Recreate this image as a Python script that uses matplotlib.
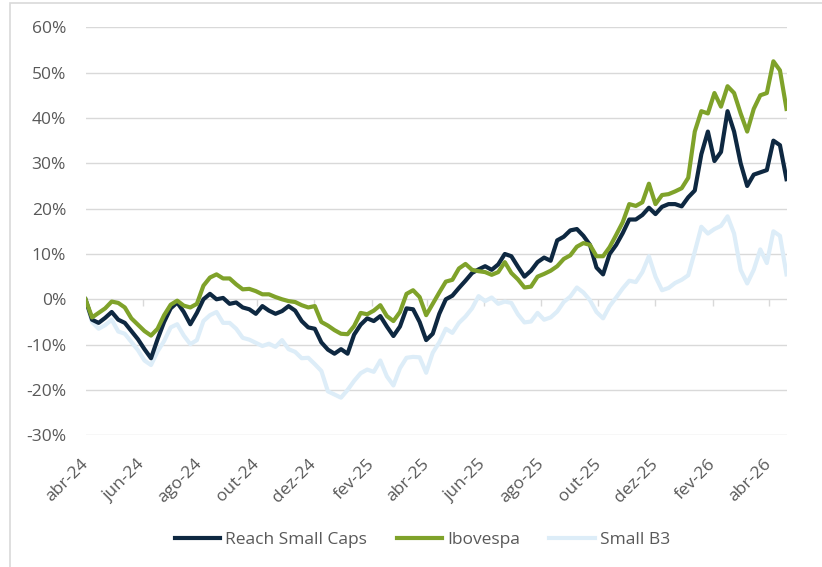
import matplotlib
matplotlib.use("Agg")
import matplotlib.pyplot as plt
import matplotlib.ticker as mtick
from matplotlib.patches import Rectangle
import pandas as pd

# weekly values (% return since start)
reach = [0.0, -4.5, -5.2, -4.1, -2.8, -4.5, -5.2, -7.0, -8.8, -11.0,
         -13.0, -8.8, -5.0, -2.0, -0.7, -2.8, -5.5, -3.0, 0.0, 1.2,
         0.0, 0.3, -1.0, -0.7, -1.8, -2.2, -3.2, -1.5, -2.5, -3.2,
         -2.6, -1.5, -2.5, -4.8, -6.2, -6.5, -9.5, -11.1, -12.0, -11.0,
         -12.0, -7.8, -5.6, -4.2, -4.8, -3.7, -6.0, -8.1, -6.0, -2.0,
         -2.2, -5.0, -9.0, -7.6, -3.2, 0.0, 0.8, 2.5, 4.1, 5.8,
         6.6, 7.3, 6.5, 7.7, 10.0, 9.5, 7.2, 5.0, 6.3, 8.2,
         9.2, 8.5, 13.0, 13.8, 15.2, 15.5, 14.0, 12.0, 7.0, 5.5,
         10.0, 12.0, 14.6, 17.6, 17.6, 18.6, 20.2, 18.8, 20.4, 21.0,
         21.0, 20.5, 22.5, 24.0, 32.0, 37.0, 30.5, 32.5, 41.5, 37.0,
         30.0, 25.0, 27.5, 28.0, 28.5, 35.0, 34.0, 26.5]
ibov = [0.0, -4.0, -3.0, -2.0, -0.5, -0.8, -1.8, -4.2, -5.6, -7.0,
        -8.0, -6.5, -3.5, -1.2, -0.3, -1.4, -1.8, -1.0, 3.0, 4.8,
        5.5, 4.6, 4.6, 3.3, 2.2, 2.3, 1.8, 1.1, 1.1, 0.5,
        0.0, -0.4, -0.6, -1.3, -1.8, -1.5, -5.0, -5.8, -6.8, -7.6,
        -7.7, -5.9, -3.0, -3.3, -2.5, -1.3, -3.7, -4.8, -2.8, 1.2,
        2.0, 0.5, -3.5, -1.0, 1.5, 3.9, 4.3, 6.8, 7.8, 6.5,
        6.2, 6.0, 5.4, 6.0, 8.2, 5.8, 4.4, 2.6, 2.8, 5.0,
        5.6, 6.3, 7.3, 8.9, 9.7, 11.6, 12.4, 12.0, 9.5, 9.5,
        11.5, 14.2, 17.0, 21.0, 20.6, 21.4, 25.5, 21.0, 23.0, 23.2,
        23.8, 24.5, 26.8, 37.0, 41.5, 41.0, 45.5, 42.5, 47.0, 45.5,
        41.0, 37.0, 42.0, 45.0, 45.5, 52.5, 50.5, 42.0]
small_b3 = [0.0, -5.0, -6.5, -5.7, -4.5, -7.1, -7.6, -9.4, -11.2, -13.5,
            -14.5, -11.5, -9.2, -6.2, -5.5, -8.0, -9.9, -9.0, -4.8, -3.5,
            -2.8, -5.2, -5.2, -6.5, -8.5, -8.9, -9.6, -10.3, -9.8, -10.5,
            -9.0, -11.0, -11.6, -13.0, -12.9, -14.3, -15.8, -20.3, -21.0, -21.7,
            -20.0, -18.0, -16.3, -15.5, -16.0, -13.5, -17.0, -19.0, -15.2, -12.9,
            -12.7, -12.8, -16.2, -11.8, -9.5, -6.5, -7.4, -5.2, -3.8, -2.0,
            0.7, -0.4, 0.4, -1.0, -0.5, -0.8, -3.3, -5.1, -4.9, -3.0,
            -4.5, -4.0, -2.7, -0.6, 0.6, 2.6, 1.5, -0.2, -2.8, -4.2,
            -1.5, 0.4, 2.4, 4.1, 3.8, 6.0, 9.5, 5.0, 2.0, 2.5,
            3.6, 4.3, 5.3, 10.5, 16.0, 14.5, 15.5, 16.2, 18.3, 14.5,
            6.5, 3.5, 6.5, 11.0, 8.0, 15.0, 14.0, 5.5]

dates = pd.date_range("2024-04-01", periods=len(reach), freq="7D")
tick_dates = pd.date_range("2024-04-01", "2026-04-01", freq="2MS")
tick_labels = ["abr-24", "jun-24", "ago-24", "out-24", "dez-24", "fev-25", "abr-25",
               "jun-25", "ago-25", "out-25", "dez-25", "fev-26", "abr-26"]

plt.rcParams["font.family"] = ["Open Sans", "DejaVu Sans"]
plt.rcParams["axes.unicode_minus"] = False
text_color = "#595959"
grid_color = "#D9D9D9"

fig = plt.figure(figsize=(8.22, 5.67), dpi=100)
ax = fig.add_axes([85.5 / 822, 1 - 435.3 / 567, 701 / 822, 408 / 567])

ax.plot(dates, [v / 100 for v in small_b3], color="#DDEDF8", lw=3.0, label="Small B3", zorder=3)
ax.plot(dates, [v / 100 for v in reach], color="#0E2841", lw=3.0, label="Reach Small Caps", zorder=4)
ax.plot(dates, [v / 100 for v in ibov], color="#7FA22A", lw=3.0, label="Ibovespa", zorder=5)

ax.set_ylim(-0.30, 0.60)
ax.set_yticks([i / 10 for i in range(-3, 7)])
ax.yaxis.set_major_formatter(mtick.PercentFormatter(1.0, decimals=0))
ax.set_xlim(dates[0], dates[-1])
ax.set_xticks(tick_dates)
ax.set_xticklabels(tick_labels, rotation=45, ha="right", va="center", rotation_mode="anchor")

ax.grid(axis="y", color=grid_color, lw=1.0, zorder=0)
ax.set_axisbelow(True)
for s in ax.spines.values():
    s.set_visible(False)
ax.tick_params(axis="y", length=0, pad=14, labelsize=12.5, labelcolor=text_color)
ax.tick_params(axis="x", length=0, pad=19, labelsize=12.5, labelcolor=text_color)

# tick marks sitting on the 0% line
sec = ax.secondary_xaxis(1 / 3)
sec.set_xticks(tick_dates)
sec.tick_params(axis="x", direction="out", length=5, width=1, color=grid_color, labelbottom=False)
sec.spines["bottom"].set_visible(False)

handles, labels = ax.get_legend_handles_labels()
order = [1, 2, 0]
fig.legend([handles[i] for i in order], [labels[i] for i in order],
           loc="center", bbox_to_anchor=(0.514, 1 - 540 / 567), ncol=3, frameon=False,
           fontsize=12.5, labelcolor=text_color, handlelength=2.6, handletextpad=0.3,
           columnspacing=1.7)

fig.patches.append(Rectangle((10 / 822, -0.01), 1.0, 1 - 2.7 / 567 + 0.01,
                             transform=fig.transFigure, fill=False, ec=grid_color, lw=1.2))

fig.savefig("out.png", dpi=100)
